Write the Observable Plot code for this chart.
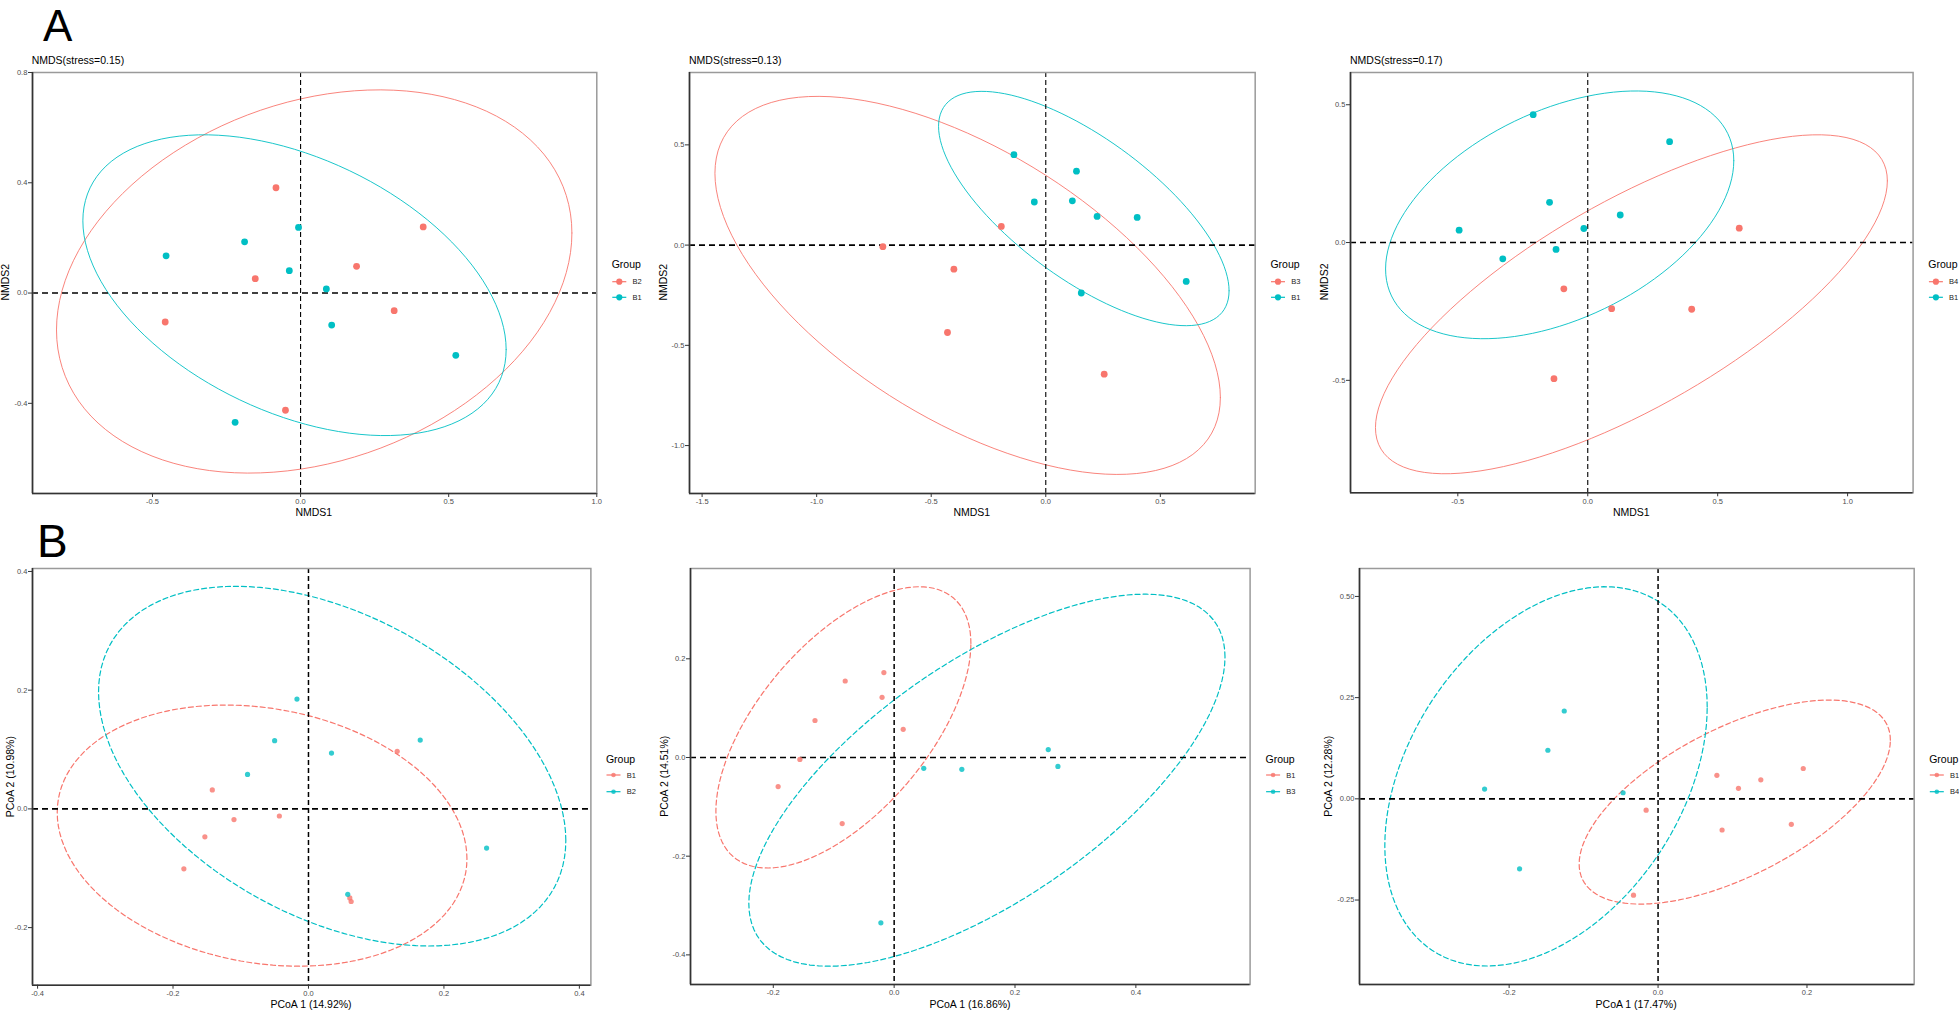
<!DOCTYPE html>
<html>
<head>
<meta charset="utf-8">
<script src="https://cdn.jsdelivr.net/npm/d3@7"></script>
<script src="https://cdn.jsdelivr.net/npm/@observablehq/plot@0.6"></script>
<style>
  html, body { margin: 0; padding: 0; background: #fff; }
  #root { position: relative; width: 1959px; height: 1010px; overflow: hidden; background: #fff; }
</style>
</head>
<body>
<div id="root"></div>
<script>
// ---------------- DATA ----------------
// Panel A1 : NMDS, B2 vs B1
const a1Title = "NMDS(stress=0.15)";
const a1Groups = ["B2", "B1"];
const a1X_B2 = [-0.083, 0.414, 0.189, -0.153, -0.457, 0.316, -0.051];
const a1Y_B2 = [0.382, 0.240, 0.097, 0.052, -0.105, -0.064, -0.425];
const a1X_B1 = [-0.007, -0.189, -0.454, -0.038, 0.087, 0.105, 0.524, -0.221];
const a1Y_B1 = [0.238, 0.186, 0.135, 0.081, 0.015, -0.116, -0.226, -0.469];
// ellipse: [centerX, centerY, halfRangeX, halfRangeY, cos(phase)]
const a1Ell_B2 = [0.046, 0.042, 0.870, 0.695, 0.253];
const a1Ell_B1 = [-0.0205, 0.0285, 0.7145, 0.5455, -0.428];
const a1XDomain = [-0.905, 1.0];
const a1YDomain = [-0.727, 0.8];
const a1XTicks = [-0.5, 0.0, 0.5, 1.0];
const a1YTicks = [-0.4, 0.0, 0.4, 0.8];

// Panel A2 : NMDS, B3 vs B1
const a2Title = "NMDS(stress=0.13)";
const a2Groups = ["B3", "B1"];
const a2X_B3 = [-0.194, -0.711, -0.401, -0.429, 0.255];
const a2Y_B3 = [0.093, -0.008, -0.120, -0.436, -0.644];
const a2X_B1 = [-0.139, 0.134, -0.050, 0.116, 0.224, 0.399, 0.613, 0.155];
const a2Y_B1 = [0.451, 0.369, 0.215, 0.221, 0.143, 0.138, -0.181, -0.239];
const a2Ell_B3 = [-0.341, -0.201, 1.103, 0.943, -0.593];
const a2Ell_B1 = [0.166, 0.1825, 0.634, 0.5845, -0.702];
const a2XDomain = [-1.555, 0.914];
const a2YDomain = [-1.239, 0.861];
const a2XTicks = [-1.5, -1.0, -0.5, 0.0, 0.5];
const a2YTicks = [-1.0, -0.5, 0.0, 0.5];

// Panel A3 : NMDS, B4 vs B1
const a3Title = "NMDS(stress=0.17)";
const a3Groups = ["B4", "B1"];
const a3X_B4 = [0.583, -0.092, 0.092, 0.400, -0.130];
const a3Y_B4 = [0.052, -0.168, -0.240, -0.242, -0.494];
const a3X_B1 = [-0.210, 0.315, -0.147, 0.125, -0.495, -0.015, -0.122, -0.327];
const a3Y_B1 = [0.464, 0.366, 0.146, 0.100, 0.045, 0.051, -0.025, -0.059];
const a3Ell_B4 = [0.168, -0.224, 0.985, 0.615, 0.728];
const a3Ell_B1 = [-0.108, 0.1005, 0.670, 0.4495, 0.437];
const a3XDomain = [-0.913, 1.252];
const a3YDomain = [-0.908, 0.617];
const a3XTicks = [-0.5, 0.0, 0.5, 1.0];
const a3YTicks = [-0.5, 0.0, 0.5];

// Panel B1 : PCoA, B1 vs B2
const b1XLabel = "PCoA 1 (14.92%)";
const b1YLabel = "PCoA 2 (10.98%)";
const b1Groups = ["B1", "B2"];
const b1X_B1 = [0.131, -0.142, -0.110, -0.043, -0.153, -0.184, 0.061, 0.063];
const b1Y_B1 = [0.097, 0.032, -0.018, -0.012, -0.047, -0.101, -0.150, -0.156];
const b1X_B2 = [-0.017, -0.050, 0.165, 0.034, -0.090, 0.263, 0.058];
const b1Y_B2 = [0.185, 0.115, 0.116, 0.094, 0.058, -0.066, -0.144];
const b1Ell_B1 = [-0.0685, -0.045, 0.3025, 0.220, -0.177];
const b1Ell_B2 = [0.035, 0.072, 0.345, 0.303, -0.413];
const b1XDomain = [-0.4075, 0.417];
const b1YDomain = [-0.297, 0.405];
const b1XTicks = [-0.4, -0.2, 0.0, 0.2, 0.4];
const b1YTicks = [-0.2, 0.0, 0.2, 0.4];

// Panel B2 : PCoA, B1 vs B3
const b2XLabel = "PCoA 1 (16.86%)";
const b2YLabel = "PCoA 2 (14.51%)";
const b2Groups = ["B1", "B3"];
const b2X_B1 = [-0.017, -0.081, -0.020, -0.131, 0.015, -0.156, -0.192, -0.086];
const b2Y_B1 = [0.172, 0.155, 0.122, 0.075, 0.057, -0.004, -0.059, -0.134];
const b2X_B3 = [0.255, 0.271, 0.049, 0.112, -0.022];
const b2Y_B3 = [0.016, -0.018, -0.022, -0.024, -0.335];
const b2Ell_B1 = [-0.084, 0.061, 0.211, 0.285, 0.596];
const b2Ell_B3 = [0.1535, -0.046, 0.394, 0.377, 0.663];
const b2XDomain = [-0.337, 0.589];
const b2YDomain = [-0.460, 0.383];
const b2XTicks = [-0.2, 0.0, 0.2, 0.4];
const b2YTicks = [-0.4, -0.2, 0.0, 0.2];

// Panel B3 : PCoA, B1 vs B4
const b3XLabel = "PCoA 1 (17.47%)";
const b3YLabel = "PCoA 2 (12.28%)";
const b3Groups = ["B1", "B4"];
const b3X_B1 = [0.195, 0.079, 0.138, 0.108, -0.016, 0.179, 0.086, -0.033];
const b3Y_B1 = [0.075, 0.058, 0.047, 0.026, -0.028, -0.063, -0.077, -0.238];
const b3X_B4 = [-0.126, -0.148, -0.233, -0.047, -0.186];
const b3Y_B4 = [0.217, 0.120, 0.024, 0.015, -0.173];
const b3Ell_B1 = [0.103, -0.008, 0.209, 0.252, 0.607];
const b3Ell_B4 = [-0.1505, 0.0555, 0.2165, 0.4685, 0.366];
const b3XDomain = [-0.401, 0.344];
const b3YDomain = [-0.4586, 0.569];
const b3XTicks = [-0.2, 0.0, 0.2];
const b3YTicks = [-0.25, 0.0, 0.25, 0.5];

const nmdsXLabel = "NMDS1";
const nmdsYLabel = "NMDS2";
const legendTitle = "Group";
const rowLetters = ["A", "B"];

// ---------------- STYLE / LAYOUT ----------------
const RED = "#F8766D", TEAL = "#00BFC4";
const FONT = "'Liberation Sans', Arial, Helvetica, sans-serif";

const panels = [
  { title: a1Title, xLabel: nmdsXLabel, yLabel: nmdsYLabel, groups: a1Groups,
    xs: [a1X_B2, a1X_B1], ys: [a1Y_B2, a1Y_B1], ells: [a1Ell_B2, a1Ell_B1],
    xDomain: a1XDomain, yDomain: a1YDomain, xTicks: a1XTicks, yTicks: a1YTicks, xDec: 1, yDec: 1,
    frame: { l: 31.7, r: 596, t: 71.7, b: 492.7 }, kind: "A", yLabelX: 5 },
  { title: a2Title, xLabel: nmdsXLabel, yLabel: nmdsYLabel, groups: a2Groups,
    xs: [a2X_B3, a2X_B1], ys: [a2Y_B3, a2Y_B1], ells: [a2Ell_B3, a2Ell_B1],
    xDomain: a2XDomain, yDomain: a2YDomain, xTicks: a2XTicks, yTicks: a2YTicks, xDec: 1, yDec: 1,
    frame: { l: 689, r: 1254.7, t: 71.7, b: 492.7 }, kind: "A", yLabelX: 663 },
  { title: a3Title, xLabel: nmdsXLabel, yLabel: nmdsYLabel, groups: a3Groups,
    xs: [a3X_B4, a3X_B1], ys: [a3Y_B4, a3Y_B1], ells: [a3Ell_B4, a3Ell_B1],
    xDomain: a3XDomain, yDomain: a3YDomain, xTicks: a3XTicks, yTicks: a3YTicks, xDec: 1, yDec: 1,
    frame: { l: 1350, r: 1912.6, t: 71.7, b: 492 }, kind: "A", yLabelX: 1324 },
  { title: null, xLabel: b1XLabel, yLabel: b1YLabel, groups: b1Groups,
    xs: [b1X_B1, b1X_B2], ys: [b1Y_B1, b1Y_B2], ells: [b1Ell_B1, b1Ell_B2],
    xDomain: b1XDomain, yDomain: b1YDomain, xTicks: b1XTicks, yTicks: b1YTicks, xDec: 1, yDec: 1,
    frame: { l: 31.8, r: 590.2, t: 568.3, b: 985 }, kind: "B", yLabelX: 10 },
  { title: null, xLabel: b2XLabel, yLabel: b2YLabel, groups: b2Groups,
    xs: [b2X_B1, b2X_B3], ys: [b2Y_B1, b2Y_B3], ells: [b2Ell_B1, b2Ell_B3],
    xDomain: b2XDomain, yDomain: b2YDomain, xTicks: b2XTicks, yTicks: b2YTicks, xDec: 1, yDec: 1,
    frame: { l: 690.2, r: 1249.8, t: 568.3, b: 984.3 }, kind: "B", yLabelX: 664.5 },
  { title: null, xLabel: b3XLabel, yLabel: b3YLabel, groups: b3Groups,
    xs: [b3X_B1, b3X_B4], ys: [b3Y_B1, b3Y_B4], ells: [b3Ell_B1, b3Ell_B4],
    xDomain: b3XDomain, yDomain: b3YDomain, xTicks: b3XTicks, yTicks: b3YTicks, xDec: 1, yDec: 2,
    frame: { l: 1358.8, r: 1913.5, t: 568.3, b: 984.3 }, kind: "B", yLabelX: 1328.5 }
];

function ellipsePath(p, g) {
  const [cx, cy, A, B, c] = p;
  const phi = Math.acos(c);
  return d3.range(121).map(i => {
    const t = 2 * Math.PI * i / 120;
    return { g, x: cx + A * Math.cos(t), y: cy + B * Math.cos(t - phi) };
  });
}

const root = document.getElementById("root");

function drawPanel(p) {
  const L = p.frame;
  const isB = p.kind === "B";
  const ml = 34, mr = 3, mt = 4, mb = 18;
  const W = (L.r - L.l) + ml + mr, H = (L.b - L.t) + mt + mb;
  const pts = p.groups.flatMap((g, gi) => p.xs[gi].map((x, i) => ({ g, x, y: p.ys[gi][i] })));
  const ells = p.groups.flatMap((g, gi) => ellipsePath(p.ells[gi], g));
  const svg = Plot.plot({
    width: W, height: H,
    marginLeft: ml, marginRight: mr, marginTop: mt, marginBottom: mb,
    x: { domain: p.xDomain },
    y: { domain: p.yDomain },
    color: { domain: p.groups, range: [RED, TEAL] },
    style: { fontFamily: FONT, background: "transparent", overflow: "visible", maxWidth: "none" },
    marks: [
      Plot.line(ells, { x: "x", y: "y", z: "g", stroke: "g",
        strokeWidth: isB ? 1.2 : 0.9, strokeDasharray: isB ? "5,3" : null, clip: true }),
      Plot.ruleY([0], { stroke: "#000", strokeWidth: 1.6, strokeDasharray: "6,4" }),
      Plot.ruleX([0], { stroke: "#000", strokeWidth: isB ? 1.5 : 1.1, strokeDasharray: "5,3" }),
      Plot.dot(pts, { x: "x", y: "y", fill: "g", r: isB ? 2.6 : 3.4, fillOpacity: isB ? 0.8 : 1 }),
      Plot.frame({ stroke: "#9a9a9a", strokeWidth: 1.5 }),
      Plot.ruleX([p.xDomain[0]], { stroke: "#333", strokeWidth: 1.6 }),
      Plot.ruleY([p.yDomain[0]], { stroke: "#333", strokeWidth: 1.6 }),
      Plot.axisX(p.xTicks, { tickFormat: d => d.toFixed(p.xDec), tickSize: 4, tickPadding: 1.5,
        label: null, stroke: "#333", fill: "#4d4d4d", fontSize: 7.5 }),
      Plot.axisY(p.yTicks, { tickFormat: d => d.toFixed(p.yDec), tickSize: 4, tickPadding: 1.2,
        label: null, stroke: "#333", fill: "#4d4d4d", fontSize: 7.5 })
    ]
  });
  svg.style.position = "absolute";
  svg.style.left = (L.l - ml) + "px";
  svg.style.top = (L.t - mt) + "px";
  root.appendChild(svg);
}

panels.forEach(drawPanel);

// ---------------- TEXT OVERLAY ----------------
const ov = d3.select(root).append("svg")
  .attr("width", 1959).attr("height", 1010)
  .style("position", "absolute").style("left", "0px").style("top", "0px")
  .style("pointer-events", "none")
  .attr("font-family", FONT);

ov.append("text").attr("x", 43).attr("y", 41).attr("font-size", 44).text(rowLetters[0]);
ov.append("text").attr("x", 37).attr("y", 557).attr("font-size", 46).text(rowLetters[1]);

panels.forEach(p => {
  const L = p.frame;
  const isB = p.kind === "B";
  if (p.title) {
    ov.append("text").attr("x", L.l).attr("y", 64).attr("font-size", 10.5).text(p.title);
  }
  const cx = (L.l + L.r) / 2, cy = (L.t + L.b) / 2;
  ov.append("text").attr("x", cx).attr("y", isB ? 1007.5 : 516)
    .attr("font-size", 10.5).attr("text-anchor", "middle").text(p.xLabel);
  ov.append("text").attr("transform", `translate(${p.yLabelX + 3.8},${cy}) rotate(-90)`)
    .attr("font-size", 10.5).attr("text-anchor", "middle").text(p.yLabel);
  // legend
  const tx = L.r + 15.7;
  const ty = isB ? 762.7 : 268;
  const keyYs = isB ? [775, 791.7] : [281.7, 297.3];
  ov.append("text").attr("x", tx).attr("y", ty).attr("font-size", 10.5).text(legendTitle);
  p.groups.forEach((g, gi) => {
    const col = gi === 0 ? RED : TEAL;
    const kx = L.r + 23.3, ky = keyYs[gi];
    ov.append("line").attr("x1", kx - 7).attr("x2", kx + 7).attr("y1", ky).attr("y2", ky)
      .attr("stroke", col).attr("stroke-width", 1.2);
    ov.append("circle").attr("cx", kx).attr("cy", ky).attr("r", isB ? 2.3 : 3.1)
      .attr("fill", col).attr("fill-opacity", isB ? 0.8 : 1);
    ov.append("text").attr("x", L.r + 36.5).attr("y", ky + 2.7).attr("font-size", 7.5)
      .attr("fill", "#222").text(g);
  });
});
</script>
</body>
</html>
